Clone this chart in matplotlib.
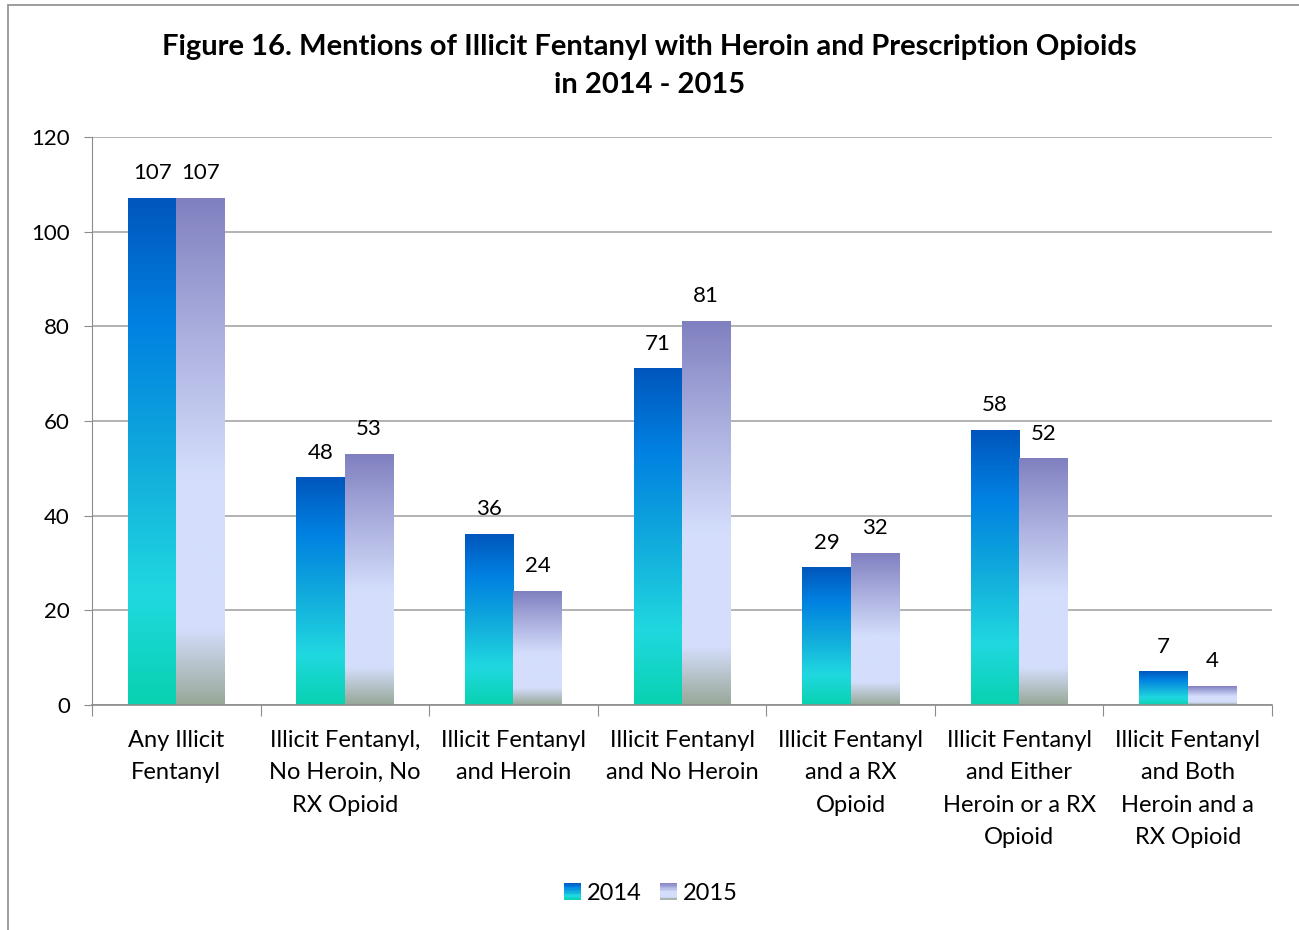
import numpy as np
import matplotlib
matplotlib.use("Agg")
import matplotlib.pyplot as plt
from matplotlib.colors import LinearSegmentedColormap
from matplotlib.patches import Rectangle
from matplotlib.legend_handler import HandlerBase

categories = ["Any Illicit\nFentanyl",
              "Illicit Fentanyl,\nNo Heroin, No\nRX Opioid",
              "Illicit Fentanyl\nand Heroin",
              "Illicit Fentanyl\nand No Heroin",
              "Illicit Fentanyl\nand a RX\nOpioid",
              "Illicit Fentanyl\nand Either\nHeroin or a RX\nOpioid",
              "Illicit Fentanyl\nand Both\nHeroin and a\nRX Opioid"]
vals_2014 = [107, 48, 36, 71, 29, 58, 7]
vals_2015 = [107, 53, 24, 81, 32, 52, 4]
series_names = ["2014", "2015"]
yticks = [0, 20, 40, 60, 80, 100, 120]

plt.rcParams['font.family'] = ['Lato', 'DejaVu Sans']

# gradients go bottom -> top
cmap_2014 = LinearSegmentedColormap.from_list("g14", [
    (0.0, "#08D2B0"), (0.22, "#20D8E0"), (0.5, "#10A8DC"),
    (0.75, "#0082E2"), (1.0, "#0056BC")])
cmap_2015 = LinearSegmentedColormap.from_list("g15", [
    (0.0, "#98A898"), (0.15, "#D4DEFC"), (0.45, "#D4DEFC"),
    (0.75, "#A8ACDC"), (1.0, "#8080C0")])


class GradientHandler(HandlerBase):
    def __init__(self, cmap):
        super().__init__()
        self.cmap = cmap

    def create_artists(self, legend, orig_handle, xdescent, ydescent,
                       width, height, fontsize, trans):
        w = height
        x0 = -xdescent + (width - w)
        n = 12
        arts = []
        for i in range(n):
            r = Rectangle((x0, -ydescent + height * i / n), w, height / n + 0.3,
                          facecolor=self.cmap((i + 0.5) / n), edgecolor='none',
                          transform=trans)
            arts.append(r)
        return arts


fig = plt.figure(figsize=(12.99, 9.30), dpi=100)
ax = fig.add_axes([92 / 1299, 1 - 705 / 930, 1180 / 1299, 568 / 930])

# outer chart border
fig.patches.append(Rectangle((8 / 1299, -0.01), 1.5, 1 - 5 / 930 + 0.01,
                             transform=fig.transFigure, fill=False,
                             edgecolor='#8C8C8C', linewidth=1.2))

x = np.arange(len(categories))
bw = 0.287
bars14 = ax.bar(x - bw / 2, vals_2014, bw, color='none', edgecolor='none')
bars15 = ax.bar(x + bw / 2, vals_2015, bw, color='none', edgecolor='none')

grad = np.linspace(0, 1, 256).reshape(-1, 1)
for bars, cmap in [(bars14, cmap_2014), (bars15, cmap_2015)]:
    for b in bars:
        x0, h, w = b.get_x(), b.get_height(), b.get_width()
        ax.imshow(grad, extent=[x0, x0 + w, 0, h], origin='lower',
                  aspect='auto', cmap=cmap, zorder=2)
        ax.text(x0 + w / 2, h + 3.2, f"{h:g}", ha='center', va='bottom',
                fontsize=16, color='black')

ax.set_xlim(-0.5, len(categories) - 0.5)
ax.set_ylim(0, 120)
ax.set_yticks(yticks)
ax.tick_params(axis='y', labelsize=16, length=6, color='#8C8C8C', pad=10)
ax.set_xticks(np.arange(len(categories) + 1) - 0.5)
ax.set_xticklabels([])
ax.tick_params(axis='x', length=8, color='#8C8C8C')
for i, lab in enumerate(categories):
    ax.text(i, -5.3, lab, ha='center', va='top', fontsize=17,
            linespacing=1.66)

ax.grid(axis='y', color='#A6A6A6', linewidth=1.2, zorder=0)
ax.set_axisbelow(True)
for s in ['top', 'right']:
    ax.spines[s].set_visible(False)
ax.spines['left'].set_color('#8C8C8C')
ax.spines['bottom'].set_color('#8C8C8C')
ax.spines['bottom'].set_linewidth(1.2)

fig.text(0.5, 1 - 66 / 930, "Figure 16. Mentions of Illicit Fentanyl with Heroin and Prescription Opioids\nin 2014 - 2015",
         ha='center', va='center', fontsize=21, fontweight='bold',
         linespacing=1.6)

h14 = Rectangle((0, 0), 1, 1)
h15 = Rectangle((0, 0), 1, 1)
fig.legend([h14, h15], series_names, loc='center', bbox_to_anchor=(0.5, 1 - 893 / 930),
           ncol=2, frameon=False, fontsize=17, handlelength=0.8, handletextpad=0.25,
           columnspacing=0.7,
           handler_map={h14: GradientHandler(cmap_2014), h15: GradientHandler(cmap_2015)})

fig.savefig("out.png", dpi=100)
